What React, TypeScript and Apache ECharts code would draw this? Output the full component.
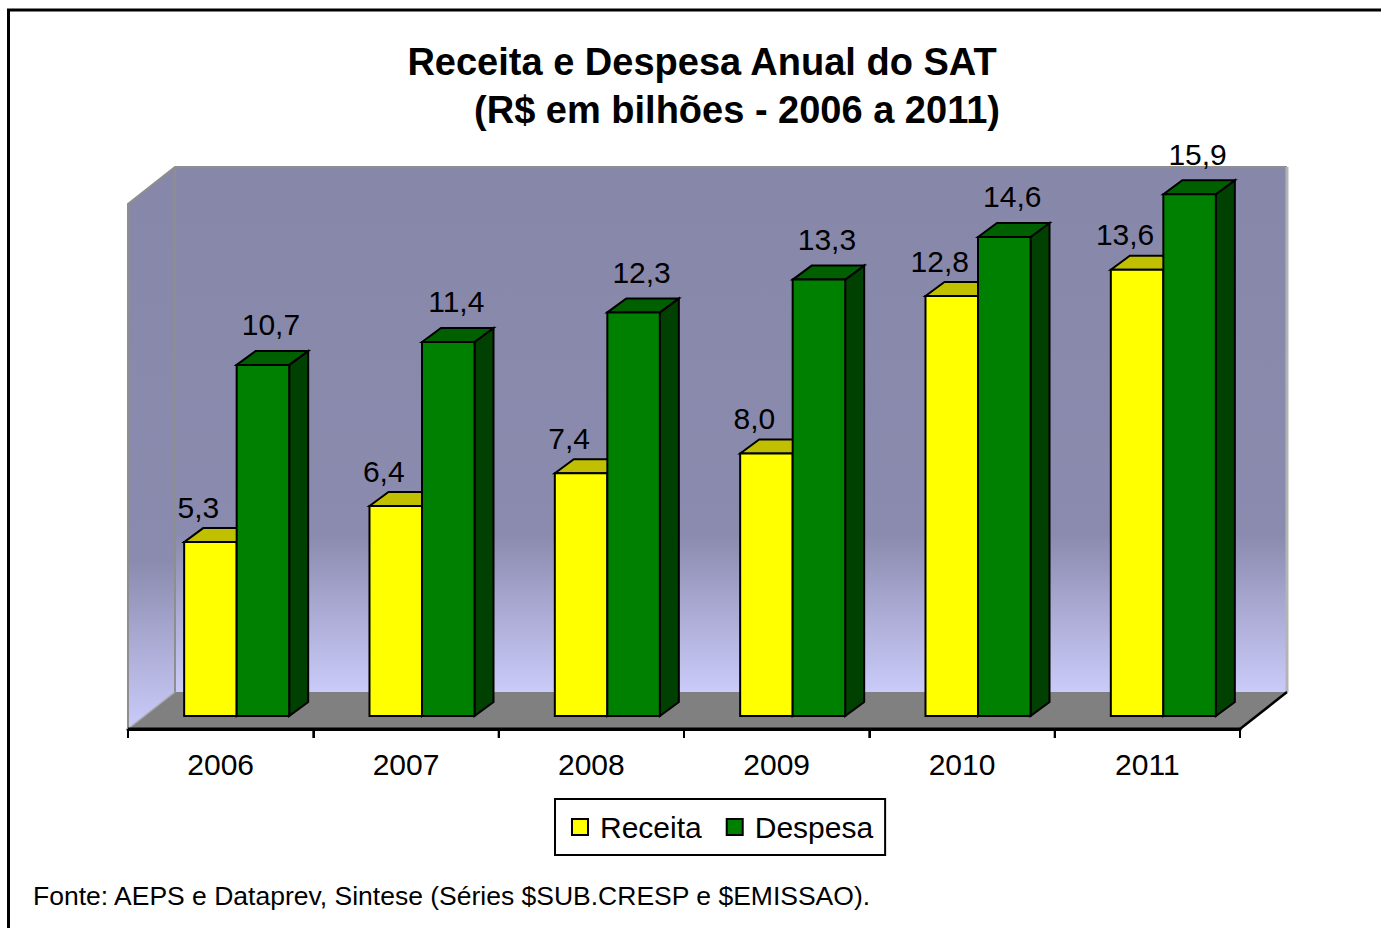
import React, { useEffect, useRef } from "react";
import * as echarts from "echarts";

const years = ["2006", "2007", "2008", "2009", "2010", "2011"];
const receita = [5.3, 6.4, 7.4, 8.0, 12.8, 13.6];
const despesa = [10.7, 11.4, 12.3, 13.3, 14.6, 15.9];
const seriesNames = ["Receita", "Despesa"];
const titleLines = ["Receita e Despesa Anual do SAT", "(R$ em bilhões - 2006 a 2011)"];
const footnote = "Fonte: AEPS e Dataprev, Sintese (Séries $SUB.CRESP e $EMISSAO).";

const Y_MAX = 16;
const FONT = "'Liberation Sans', Arial, Helvetica, sans-serif";

// 3D projection constants (pixels)
const WALL_DX = 47;
const WALL_DY = -37;
const BAR_SHIFT_X = 16;
const BAR_SHIFT_Y = -13;
const BAR_DX = 19;
const BAR_DY = -14;
const BAR_FRAC = 0.2833;

const fmt = (v: number) => v.toFixed(1).replace(".", ",");

function barRenderer(side: "left" | "right", front: string, topC: string, sideC: string, labelDx: number, labelDy: number) {
  return (params: any, api: any) => {
    const i = api.value(0);
    const v = api.value(1);
    const top = api.coord([i, v]);
    const base = api.coord([i, 0]);
    const band = api.size([1, 0])[0];
    const w = band * BAR_FRAC;
    const cx = top[0] + BAR_SHIFT_X;
    const x1 = side === "left" ? cx - w : cx;
    const x2 = x1 + w;
    const yt = top[1] + BAR_SHIFT_Y;
    const yb = base[1] + BAR_SHIFT_Y;
    const stroke = { stroke: "#000", lineWidth: 2 };
    return {
      type: "group",
      children: [
        {
          type: "polygon",
          shape: { points: [[x2, yt], [x2 + BAR_DX, yt + BAR_DY], [x2 + BAR_DX, yb + BAR_DY], [x2, yb]] },
          style: { fill: sideC, ...stroke },
        },
        {
          type: "polygon",
          shape: { points: [[x1, yt], [x1 + BAR_DX, yt + BAR_DY], [x2 + BAR_DX, yt + BAR_DY], [x2, yt]] },
          style: { fill: topC, ...stroke },
        },
        {
          type: "rect",
          shape: { x: x1, y: yt, width: w, height: yb - yt },
          style: { fill: front, ...stroke },
        },
        {
          type: "text",
          x: (x1 + x2) / 2 + labelDx,
          y: yt + labelDy,
          style: {
            text: fmt(v),
            fill: "#000",
            fontSize: 30,
            fontFamily: FONT,
            align: "center",
            verticalAlign: "middle",
          },
        },
      ],
    };
  };
}

function wallsRenderer(params: any, api: any) {
  const band = api.size([1, 0])[0];
  const p0 = api.coord([0, 0]);
  const p1 = api.coord([years.length - 1, Y_MAX]);
  const xl = p0[0] - band / 2;
  const xr = p1[0] + band / 2;
  const yb = p0[1];
  const yt = p1[1];
  const grad = () =>
    new echarts.graphic.LinearGradient(0, 0, 0, 1, [
      { offset: 0, color: "#8787A9" },
      { offset: 0.7, color: "#8B8BAF" },
      { offset: 1, color: "#CBCBFA" },
    ]);
  const edge = { stroke: "#8E8E8E", lineWidth: 2 };
  const children: any[] = [
    {
      type: "rect",
      shape: { x: xl + WALL_DX, y: yt + WALL_DY, width: xr - xl, height: yb - yt },
      style: { fill: grad() },
    },
    {
      type: "polygon",
      shape: { points: [[xl, yt], [xl + WALL_DX, yt + WALL_DY], [xl + WALL_DX, yb + WALL_DY], [xl, yb]] },
      style: { fill: grad() },
    },
    {
      type: "polygon",
      shape: { points: [[xl, yb], [xl + WALL_DX, yb + WALL_DY], [xr + WALL_DX, yb + WALL_DY], [xr, yb]] },
      style: { fill: "#808080" },
    },
    { type: "polyline", shape: { points: [[xl, yb], [xl, yt], [xl + WALL_DX, yt + WALL_DY], [xr + WALL_DX, yt + WALL_DY]] }, style: { fill: null, ...edge } },
    { type: "line", shape: { x1: xl + WALL_DX, y1: yt + WALL_DY, x2: xl + WALL_DX, y2: yb + WALL_DY }, style: edge },
    { type: "line", shape: { x1: xr + WALL_DX, y1: yt + WALL_DY, x2: xr + WALL_DX, y2: yb + WALL_DY }, style: { stroke: "#B4B4B4", lineWidth: 3 } },
    { type: "line", shape: { x1: xl, y1: yb, x2: xl + WALL_DX, y2: yb + WALL_DY }, style: { stroke: "#A8A8A8", lineWidth: 1.5 } },
    { type: "line", shape: { x1: xr, y1: yb, x2: xr + WALL_DX, y2: yb + WALL_DY }, style: { stroke: "#000", lineWidth: 2.5 } },
    { type: "line", shape: { x1: xl, y1: yb, x2: xr, y2: yb }, style: { stroke: "#000", lineWidth: 3 } },
  ];
  // category boundary ticks below the front edge
  for (let k = 0; k <= years.length; k++) {
    const x = xl + k * band;
    children.push({ type: "line", shape: { x1: x, y1: yb, x2: x, y2: yb + 9 }, style: { stroke: "#000", lineWidth: 2 } });
  }
  return { type: "group", children };
}

export default function App() {
  const ref = useRef<HTMLDivElement>(null);
  useEffect(() => {
    document.body.style.margin = "0";
    if (!ref.current) return;
    const chart = echarts.init(ref.current, undefined, { renderer: "svg" });
    chart.setOption({
      animation: false,
      backgroundColor: "#fff",
      grid: { left: 128, right: 141, top: 204, bottom: 199 },
      xAxis: {
        type: "category",
        data: years,
        axisLine: { show: true, lineStyle: { color: "#000", width: 3 } },
        axisTick: { show: true, inside: false, interval: 0, length: 9, lineStyle: { color: "#000", width: 2 } },
        axisLabel: { color: "#000", fontSize: 30, fontFamily: FONT, margin: 20 },
        splitLine: { show: false },
      },
      yAxis: { type: "value", min: 0, max: Y_MAX, show: false },
      legend: {
        left: 555,
        top: 799,
        orient: "horizontal",
        icon: "rect",
        itemWidth: 16,
        itemHeight: 16,
        itemGap: 24,
        padding: [13, 12, 13, 16],
        borderColor: "#000",
        borderWidth: 2,
        backgroundColor: "#fff",
        textStyle: { color: "#000", fontSize: 30, fontFamily: FONT, padding: [0, 0, 0, 7] },
        data: [
          { name: seriesNames[0], itemStyle: { color: "#FFFF00", borderColor: "#000", borderWidth: 2 } },
          { name: seriesNames[1], itemStyle: { color: "#008000", borderColor: "#000", borderWidth: 2 } },
        ],
      },
      graphic: [
        { type: "rect", shape: { x: 8.5, y: 10, width: 1450, height: 1000 }, style: { fill: "none", stroke: "#000", lineWidth: 3 }, silent: true },
        {
          type: "text", x: 702, y: 62,
          style: { text: titleLines[0], fill: "#000", font: `bold 38px ${FONT}`, align: "center", verticalAlign: "middle" },
        },
        {
          type: "text", x: 737, y: 110,
          style: { text: titleLines[1], fill: "#000", font: `bold 38px ${FONT}`, align: "center", verticalAlign: "middle" },
        },
        {
          type: "text", x: 33, y: 896,
          style: { text: footnote, fill: "#000", font: `26.5px ${FONT}`, align: "left", verticalAlign: "middle" },
        },
      ],
      series: [
        {
          type: "custom",
          name: "walls",
          silent: true,
          z: 1,
          data: [[0, 0]],
          renderItem: wallsRenderer,
        },
        {
          type: "custom",
          name: seriesNames[0],
          z: 3,
          itemStyle: { color: "#FFFF00" },
          data: receita.map((v, i) => [i, v]),
          renderItem: barRenderer("left", "#FFFF00", "#C0C000", "#A0A000", -12, -35),
        },
        {
          type: "custom",
          name: seriesNames[1],
          z: 4,
          itemStyle: { color: "#008000" },
          data: despesa.map((v, i) => [i, v]),
          renderItem: barRenderer("right", "#008000", "#006000", "#004000", 8, -40),
        },
      ],
    });
    return () => chart.dispose();
  }, []);
  return <div ref={ref} style={{ width: 1381, height: 928, overflow: "hidden" }} />;
}
